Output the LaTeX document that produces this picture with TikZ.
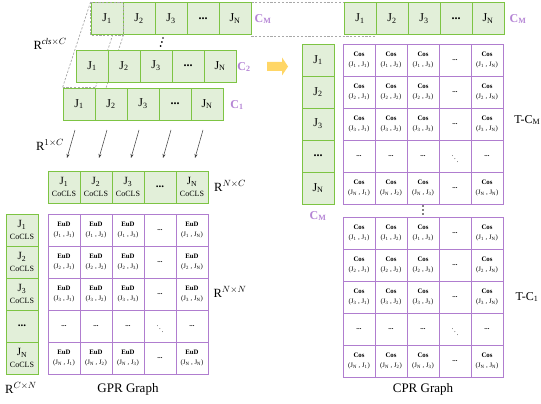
\documentclass[tikz,border=0pt]{standalone}
\usepackage{fontspec}
\setmainfont{Liberation Serif}
\usetikzlibrary{arrows.meta,backgrounds}

\definecolor{cellgreen}{HTML}{E2EFD9}
\definecolor{edgegreen}{HTML}{7DC443}
\definecolor{gridpurple}{HTML}{B07DCF}
\definecolor{labelpurple}{HTML}{B585D5}
\definecolor{arrowyellow}{HTML}{FFD666}
\definecolor{dashgray}{HTML}{A8A8A8}
\definecolor{arrowgray}{HTML}{404040}

% index printed in a matrix cell: 1, 2, 3, (gap), N
\newcommand\cellidx[1]{\ifcase#1\or 1\or 2\or 3\or \or N\fi}
% body of a similarity-matrix cell
\newcommand\simcell[3]{%
  \ifnum#2=4 \ifnum#3=4 $\ddots$\else\textbf{...}\fi
  \else\ifnum#3=4 \textbf{...}\else
    \textbf{#1}\\(J\textsubscript{\cellidx{#2}} , J\textsubscript{\cellidx{#3}})\fi\fi}
% two-line label of a CoCLS cell
\newcommand\cocls[1]{J\textsubscript{#1}\\{\fontsize{8}{8}\selectfont CoCLS}}

\begin{document}
\begin{tikzpicture}[x=1pt,y=-1pt,
  gcell/.style={draw=edgegreen, fill=cellgreen, line width=0.9pt,
    minimum width=32pt, minimum height=32pt, inner sep=0pt,
    font=\fontsize{12}{13}\selectfont},
  ccell/.style={gcell, align=center, font=\fontsize{11}{11.5}\selectfont},
  pcell/.style={draw=gridpurple, fill=white, line width=0.8pt,
    minimum width=32pt, minimum height=32pt, inner sep=0pt, align=center,
    font=\fontsize{6.8}{9.5}\selectfont},
  clab/.style={text=labelpurple, font=\fontsize{12}{13}\selectfont\bfseries},
  rlab/.style={font=\fontsize{12.5}{14}\selectfont},
  guide/.style={draw=dashgray, dash pattern=on 2.2pt off 1.6pt, line width=0.7pt},
  feed/.style={draw=arrowgray, line width=0.5pt, -{Stealth[length=4pt,width=3pt]}},
  dotmark/.style={fill=black, circle, inner sep=0pt, minimum size=1.9pt},
]
\useasboundingbox (0,0) rectangle (541,404);

% ---- class rows C_M, C_2, C_1, the copied C_M row and the joint column ----
\foreach \t [count=\i] in {J\textsubscript{1},J\textsubscript{2},J\textsubscript{3},\textbf{...},J\textsubscript{N}}{
  \node[gcell] (cm-\i) at (107+32*\i-32,18.5) {\t};
  \node[gcell] (ctwo-\i) at (92+32*\i-32,66) {\t};
  \node[gcell] (cone-\i) at (79+32*\i-32,104) {\t};
  \node[gcell] (rm-\i) at (360+32*\i-32,18.5) {\t};
  \node[gcell] (rc-\i) at (318,60+32*\i-32) {\t};
}
% guide lines run behind the rows
\begin{pgfonlayer}{background}
  \draw[guide] (cm-1.north west) -- (cone-1.north west);
  \draw[guide] (cm-1.north east) -- (cone-1.north east);
  \draw[guide] (cm-1.south east) -- (cone-1.south east);
  \draw[guide] (cm-5.north east) -- (rm-1.north west);
  \draw[guide] ([yshift=-1pt]cm-5.south east) -- ([yshift=-1pt]rm-1.south east);
\end{pgfonlayer}
\draw[guide] (cm-1.north west) rectangle (cm-1.south east);
\draw[guide] (cone-1.north west) -- (cone-1.north east);

\node[clab] (lcm) at (263,19) {C\textsubscript{M}};
\node[clab] (lctwo) at (244,67) {C\textsubscript{2}};
\node[clab] (lcone) at (237,105) {C\textsubscript{1}};
\node[clab] (rcm) at (518,19) {C\textsubscript{M}};
\node[clab] (bcm) at (318,216) {C\textsubscript{M}};

% vertical ellipses between the stacked rows and between the two tables
\foreach \k in {0,1,2}{
  \node[dotmark] (vda\k) at (163-1.2*\k,38+4*\k) {};
  \node[dotmark] (vdb\k) at (423,206+4*\k) {};
}

\node[rlab] (rcls) at (50,44) {R$^{\mathit{cls}\times C}$};
\node[rlab] (rone) at (50,145) {R$^{1\times C}$};
\node[rlab] (rnc) at (230,186) {R$^{N\times C}$};
\node[rlab] (rnn) at (230,292) {R$^{N\times N}$};
\node[rlab] (rcn) at (21,388) {R$^{C\times N}$};

% ---- projection arrows ----
\foreach \i in {1,...,5}{
  \coordinate (fa\i) at (75+32*\i-32,130);
  \coordinate (fb\i) at (67+32*\i-32,158);
  \draw[feed] (fa\i) -- (fb\i);
}

% ---- CoCLS row and column ----
\foreach \t [count=\i] in {\cocls{1},\cocls{2},\cocls{3},\textbf{...},\cocls{N}}{
  \node[ccell] (co-\i) at (64+32*\i-32,187) {\t};
  \node[ccell] (lc-\i) at (22,230+32*\i-32) {\t};
}

% ---- GPR graph ----
\foreach \r in {1,...,5}{\foreach \c in {1,...,5}{
  \node[pcell] (e-\r-\c) at (64+32*\c-32,230+32*\r-32) {\simcell{EuD}{\r}{\c}};
}}
\node[font=\fontsize{13}{14}\selectfont] (gpr) at (128,389) {GPR Graph};

% ---- CPR graph: two class tables ----
\foreach \r in {1,...,5}{\foreach \c in {1,...,5}{
  \node[pcell] (t-\r-\c) at (359+32*\c-32,60+32*\r-32) {\simcell{Cos}{\r}{\c}};
  \node[pcell] (s-\r-\c) at (359+32*\c-32,233+32*\r-32) {\simcell{Cos}{\r}{\c}};
}}
\node[rlab, anchor=east, inner sep=0.5pt, font=\fontsize{12}{13}\selectfont] (tcm) at (541,120) {T-C\textsubscript{M}};
\node[rlab, anchor=west, inner sep=0.5pt, font=\fontsize{12}{13}\selectfont] (tcone) at (515,297) {T-C\textsubscript{1}};
\node[font=\fontsize{13}{14}\selectfont] (cpr) at (423,389) {CPR Graph};

% ---- yellow arrow ----
\fill[arrowyellow] (267,62) -- (282,62) -- (282,57.5) -- (288,66.5)
  -- (282,75.5) -- (282,71) -- (267,71) -- cycle;
\end{tikzpicture}
\end{document}
